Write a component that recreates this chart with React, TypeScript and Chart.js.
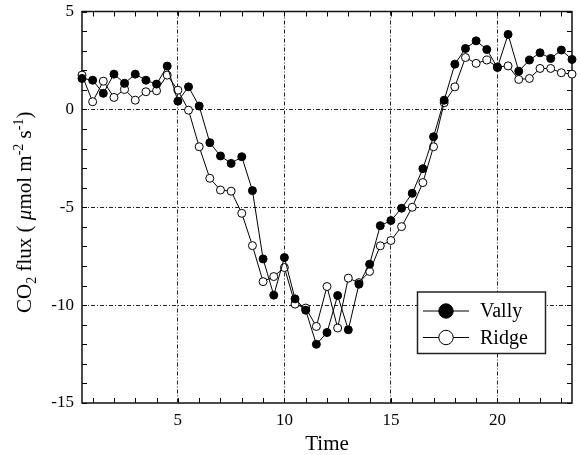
import React, { useEffect, useRef } from "react";
import { Chart, registerables } from "chart.js";

Chart.register(...registerables);

const times = [
  0.5, 1, 1.5, 2, 2.5, 3, 3.5, 4, 4.5, 5, 5.5, 6, 6.5, 7, 7.5, 8, 8.5, 9, 9.5, 10,
  10.5, 11, 11.5, 12, 12.5, 13, 13.5, 14, 14.5, 15, 15.5, 16, 16.5, 17, 17.5, 18,
  18.5, 19, 19.5, 20, 20.5, 21, 21.5, 22, 22.5, 23, 23.5,
];

const vally = [
  1.58, 1.49, 0.82, 1.8, 1.33, 1.8, 1.49, 1.29, 2.21, 0.42, 1.15, 0.17, -1.7, -2.38,
  -2.76, -2.42, -4.15, -7.64, -9.49, -7.57, -9.68, -10.26, -12.0, -11.4, -9.51,
  -11.26, -8.93, -7.91, -5.94, -5.68, -5.05, -4.29, -3.03, -1.4, 0.47, 2.31, 3.11,
  3.5, 3.06, 2.14, 3.83, 1.95, 2.52, 2.89, 2.6, 3.03, 2.55,
];

const ridge = [
  1.75, 0.39, 1.44, 0.61, 1.02, 0.47, 0.9, 0.95, 1.75, 0.98, -0.04, -1.91, -3.52,
  -4.12, -4.18, -5.31, -6.96, -8.8, -8.54, -8.08, -9.95, -10.15, -11.09, -9.05,
  -11.17, -8.62, -8.85, -8.28, -6.97, -6.7, -5.99, -5.0, -3.74, -1.91, 0.34, 1.15,
  2.65, 2.35, 2.52, 2.17, 2.22, 1.53, 1.58, 2.09, 2.09, 1.87, 1.8,
];

const seriesNames = ["Vally", "Ridge"];
const xTickLabels = [5, 10, 15, 20];
const yTickLabels = [5, 0, -5, -10, -15];

const FONT = "'Liberation Serif', 'Times New Roman', serif";

const integerTicks = (from: number, to: number) => {
  const out: { value: number }[] = [];
  for (let v = from; v <= to; v++) out.push({ value: v });
  return out;
};

const decorPlugin = {
  id: "decor",
  beforeDatasetsDraw(chart: any) {
    const { ctx, chartArea: a, scales } = chart;
    const xs = scales.x;
    const ys = scales.y;
    ctx.save();
    ctx.strokeStyle = "#000";
    ctx.lineWidth = 1;
    ctx.setLineDash([]);
    ctx.beginPath();
    xs.ticks.forEach((t: any) => {
      const px = Math.round(xs.getPixelForValue(t.value)) + 0.5;
      ctx.moveTo(px, a.bottom);
      ctx.lineTo(px, a.bottom - 5);
      ctx.moveTo(px, a.top);
      ctx.lineTo(px, a.top + 5);
    });
    ys.ticks.forEach((t: any) => {
      const py = Math.round(ys.getPixelForValue(t.value)) + 0.5;
      ctx.moveTo(a.left, py);
      ctx.lineTo(a.left + 5, py);
      ctx.moveTo(a.right, py);
      ctx.lineTo(a.right - 5, py);
    });
    ctx.stroke();
    ctx.lineWidth = 1.5;
    ctx.strokeStyle = "#111";
    ctx.strokeRect(a.left, a.top, a.right - a.left, a.bottom - a.top);
    ctx.restore();
  },
  afterDatasetsDraw(chart: any) {
    const { ctx } = chart;
    ctx.save();
    const bx = 417.5, by = 292, bw = 128, bh = 61.5;
    ctx.fillStyle = "#fff";
    ctx.fillRect(bx, by, bw, bh);
    ctx.lineWidth = 1.5;
    ctx.strokeStyle = "#222";
    ctx.strokeRect(bx, by, bw, bh);
    const rows = [311, 337.5];
    ctx.font = `20px ${FONT}`;
    ctx.textBaseline = "middle";
    ctx.textAlign = "left";
    rows.forEach((ry, i) => {
      ctx.lineWidth = 1;
      ctx.strokeStyle = "#000";
      ctx.beginPath();
      ctx.moveTo(423, ry);
      ctx.lineTo(469, ry);
      ctx.stroke();
      ctx.beginPath();
      ctx.arc(446, ry, 7.2, 0, Math.PI * 2);
      ctx.fillStyle = i === 0 ? "#000" : "#fff";
      ctx.fill();
      ctx.stroke();
      ctx.fillStyle = "#000";
      ctx.fillText(seriesNames[i], 480, ry + 1);
    });
    ctx.restore();
  },
  afterDraw(chart: any) {
    const { ctx, chartArea: a } = chart;
    ctx.save();
    const cy = (a.top + a.bottom) / 2 + 5;
    ctx.translate(31, cy);
    ctx.rotate(-Math.PI / 2);
    ctx.fillStyle = "#000";
    ctx.textBaseline = "alphabetic";
    ctx.textAlign = "left";
    const segs: { t: string; size: number; dy: number; italic?: boolean }[] = [
      { t: "CO", size: 21, dy: 0 },
      { t: "2", size: 14, dy: 5 },
      { t: " flux ( ", size: 21, dy: 0 },
      { t: "\u03bc", size: 21, dy: 0, italic: true },
      { t: "mol m", size: 21, dy: 0 },
      { t: "-2", size: 14, dy: -8 },
      { t: " s", size: 21, dy: 0 },
      { t: "-1", size: 14, dy: -8 },
      { t: ")", size: 21, dy: 0 },
    ];
    const fontOf = (s: any) => `${s.italic ? "italic " : ""}${s.size}px ${FONT}`;
    let total = 0;
    segs.forEach((s) => {
      ctx.font = fontOf(s);
      total += ctx.measureText(s.t).width;
    });
    let x = -total / 2;
    segs.forEach((s) => {
      ctx.font = fontOf(s);
      ctx.fillText(s.t, x, s.dy);
      x += ctx.measureText(s.t).width;
    });
    ctx.restore();
  },
};

export default function App() {
  const ref = useRef<HTMLCanvasElement | null>(null);
  useEffect(() => {
    if (!ref.current) return;
    const gridDash = [4, 2, 1, 2];
    const chart = new Chart(ref.current, {
      type: "line",
      data: {
        datasets: [
          {
            label: seriesNames[0],
            data: times.map((t, i) => ({ x: t, y: vally[i] })),
            borderColor: "#000",
            borderWidth: 1,
            pointRadius: 4,
            pointBorderWidth: 1,
            pointBackgroundColor: "#000",
            pointBorderColor: "#000",
            tension: 0,
            clip: false,
          },
          {
            label: seriesNames[1],
            data: times.map((t, i) => ({ x: t, y: ridge[i] })),
            borderColor: "#000",
            borderWidth: 1,
            pointRadius: 4,
            pointBorderWidth: 1,
            pointBackgroundColor: "#fff",
            pointBorderColor: "#000",
            tension: 0,
            clip: false,
          },
        ],
      },
      options: {
        responsive: false,
        animation: false,
        layout: { padding: { left: 0, right: 9, top: 11.5, bottom: 0 } },
        plugins: {
          legend: { display: false },
          tooltip: { enabled: false },
        },
        scales: {
          x: {
            type: "linear",
            min: 0.5,
            max: 23.5,
            afterBuildTicks: (s: any) => {
              s.ticks = integerTicks(1, 23);
            },
            afterFit: (s: any) => {
              s.height = 52;
              s.paddingLeft = 0;
              s.paddingRight = 0;
            },
            border: { display: false, dash: gridDash },
            grid: {
              drawTicks: false,
              lineWidth: 1,
              color: (c: any) =>
                c.tick && xTickLabels.includes(c.tick.value) ? "#222" : "rgba(0,0,0,0)",
            },
            ticks: {
              autoSkip: false,
              maxRotation: 0,
              padding: 7,
              color: "#000",
              font: { family: FONT, size: 17 },
              callback: (v: any) => (xTickLabels.includes(Number(v)) ? String(v) : ""),
            },
            title: {
              display: true,
              text: "Time",
              color: "#000",
              font: { family: FONT, size: 21 },
              padding: { top: 0, bottom: -2 },
            },
          },
          y: {
            type: "linear",
            min: -15,
            max: 5,
            afterBuildTicks: (s: any) => {
              s.ticks = integerTicks(-15, 5);
            },
            afterFit: (s: any) => {
              s.width = 82;
              s.paddingTop = 0;
              s.paddingBottom = 0;
            },
            border: { display: false, dash: gridDash },
            grid: {
              drawTicks: false,
              lineWidth: 1,
              color: (c: any) =>
                c.tick && [0, -5, -10].includes(c.tick.value) ? "#222" : "rgba(0,0,0,0)",
            },
            ticks: {
              autoSkip: false,
              padding: 8,
              color: "#000",
              font: { family: FONT, size: 17 },
              callback: (v: any) => (yTickLabels.includes(Number(v)) ? String(v) : ""),
            },
          },
        },
      },
      plugins: [decorPlugin],
    } as any);
    return () => chart.destroy();
  }, []);
  return (
    <div style={{ position: "fixed", left: 0, top: 0, width: 581, height: 455, background: "#fff" }}>
      <canvas ref={ref} width={581} height={455} />
    </div>
  );
}
